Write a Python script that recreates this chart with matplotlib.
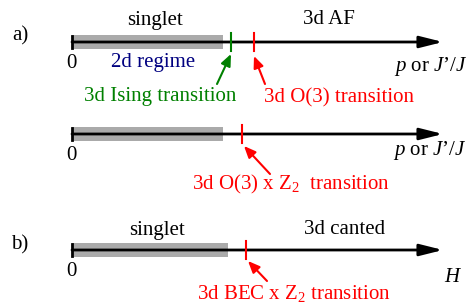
import matplotlib.pyplot as plt

plt.rcParams['font.family'] = ['Liberation Serif', 'DejaVu Serif']
plt.rcParams['mathtext.fontset'] = 'custom'
plt.rcParams['mathtext.rm'] = 'Liberation Serif'
plt.rcParams['mathtext.it'] = 'Liberation Serif:italic'

# schematic axes, in figure pixel units (y measured from the top)
rows_y = [42, 134, 250]
axis_start = 72
axis_end = 443
gray_end = [223, 223, 228]

# transitions: (row, position, colour)
transitions = [(0, 231, 'green'), (0, 254, 'red'), (1, 242, 'red'), (2, 246, 'red')]

fig = plt.figure(figsize=(4.76, 3.06), dpi=100)
ax = fig.add_axes([0, 0, 1, 1])
ax.set_xlim(0, 476)
ax.set_ylim(306, 0)
ax.axis('off')

fs = 15

for i, y in enumerate(rows_y):
    ax.fill_between([axis_start, gray_end[i]], y - 7, y + 7, color='#aaaaaa', lw=0, zorder=1)
    ax.annotate('', xy=(axis_end, y), xytext=(axis_start, y),
                arrowprops=dict(arrowstyle='-|>,head_length=1.4,head_width=0.35', color='black', lw=2,
                                shrinkA=0, shrinkB=0), zorder=2)
    ax.plot([axis_start, axis_start], [y - 6, y + 6], color='black', lw=2, zorder=3)
    ax.text(71, y + 21, '0', fontsize=fs, ha='center', va='center')

for row, x, c in transitions:
    y = rows_y[row]
    ax.plot([x, x], [y - 9, y + 9], color=c, lw=1.5, zorder=3)

# labels
ax.text(20, 36, 'a)', fontsize=fs, ha='center', va='center')
ax.text(20, 245, 'b)', fontsize=fs, ha='center', va='center')
ax.text(155, 20, 'singlet', fontsize=fs, ha='center', va='center')
ax.text(329, 20, '3d AF', fontsize=fs, ha='center', va='center')
ax.text(153, 63, '2d regime', fontsize=fs, ha='center', va='center', color='#000080')
ax.text(431, 67, r'$p$ or $J$’/$J$', fontsize=fs, ha='center', va='center')
ax.text(430, 151, r'$p$ or $J$’/$J$', fontsize=fs, ha='center', va='center')
ax.text(157, 230, 'singlet', fontsize=fs, ha='center', va='center')
ax.text(345, 230, '3d canted', fontsize=fs, ha='center', va='center')
ax.text(453, 277, '$H$', fontsize=fs, ha='center', va='center')

arrow = dict(arrowstyle='-|>,head_length=0.7,head_width=0.3', lw=1.5, shrinkA=0, shrinkB=0)
ax.annotate('', xy=(231, 54), xytext=(217, 84), arrowprops=dict(arrow, color='green'))
ax.text(160, 97, '3d Ising transition', fontsize=fs, ha='center', va='center', color='green')
ax.annotate('', xy=(254, 56), xytext=(265, 84), arrowprops=dict(arrow, color='red'))
ax.text(339, 98, '3d O(3) transition', fontsize=fs, ha='center', va='center', color='red')
ax.annotate('', xy=(244, 146), xytext=(270, 174), arrowprops=dict(arrow, color='red'))
ax.text(291, 184, r'3d O(3) x Z$_2$  transition', fontsize=fs, ha='center', va='center', color='red')
ax.annotate('', xy=(248, 261), xytext=(267, 281), arrowprops=dict(arrow, color='red'))
ax.text(294, 294, r'3d BEC x Z$_2$ transition', fontsize=fs, ha='center', va='center', color='red')

fig.savefig('out.png', dpi=100)
